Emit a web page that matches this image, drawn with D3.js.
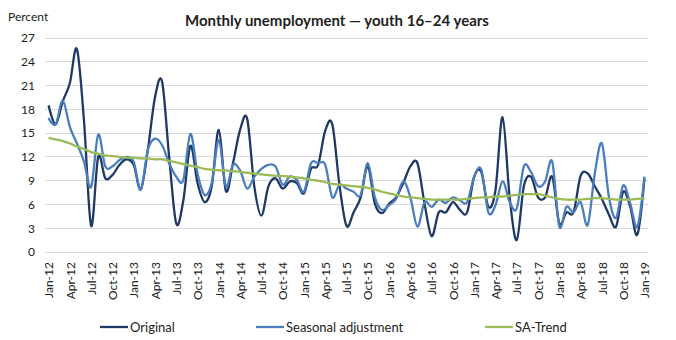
<!DOCTYPE html>
<html><head><meta charset="utf-8">
<script src="https://cdn.jsdelivr.net/npm/d3@7"></script>
<style>
html,body{margin:0;padding:0;background:#fff;}
svg text{font-family:Lato,"Liberation Sans",sans-serif;fill:#222;}
</style></head>
<body><svg id="c" width="676" height="340"></svg>
<script>
const monthNames = ["Jan","Feb","Mar","Apr","May","Jun","Jul","Aug","Sep","Oct","Nov","Dec"];
const years = [12,13,14,15,16,17,18,19];
const months = [];
years.forEach(yr => monthNames.forEach(m => { if (yr < 19 || m === "Jan") months.push(m + "-" + yr); }));

const original = [18.5,16.1,19.0,21.3,25.6,16.5,3.3,12.0,9.3,9.7,11.0,11.7,
 11.0,7.9,12.9,19.5,21.5,12.0,3.6,6.5,13.4,8.7,6.3,8.3,
 15.4,7.7,11.2,15.4,16.8,8.3,4.6,8.3,9.3,8.0,8.9,8.7,
 7.4,10.5,11.0,15.3,16.1,8.5,3.3,5.0,6.9,10.8,6.1,4.9,
 6.1,6.9,8.7,10.8,11.2,6.1,2.0,5.0,5.0,6.3,5.3,5.0,
 9.5,10.1,5.7,7.8,17.0,6.9,1.5,8.3,9.5,6.9,6.9,9.5,
 3.6,5.0,5.0,9.6,9.9,8.3,6.7,4.7,3.2,7.6,5.7,2.2,
 9.3];
const seasonal = [16.9,16.1,19.1,15.8,13.7,11.4,8.2,14.8,10.8,10.8,11.6,12.0,
 11.4,7.9,12.9,14.3,13.5,11.2,9.5,9.1,14.9,9.9,7.2,8.7,
 14.1,8.3,11.0,10.3,8.0,9.5,10.5,11.0,10.8,8.5,9.5,9.1,
 7.6,11.2,11.2,11.0,6.9,8.5,8.0,7.6,7.2,11.2,6.9,5.3,
 5.9,6.7,8.9,6.9,3.2,6.3,5.7,6.6,6.2,6.9,6.5,6.3,
 9.5,10.4,5.0,5.9,8.9,6.3,5.5,10.8,10.1,8.3,8.9,11.4,
 3.2,5.7,5.0,6.3,3.4,9.9,13.7,6.9,4.3,8.4,6.1,3.2,
 9.5];
const trend = [14.4,14.2,14.0,13.7,13.3,13.0,12.6,12.4,12.2,12.1,12.0,11.9,
 11.9,11.8,11.8,11.7,11.7,11.5,11.3,11.1,10.9,10.7,10.5,10.4,
 10.3,10.3,10.2,10.1,10.0,9.9,9.8,9.7,9.6,9.6,9.5,9.4,
 9.3,9.1,9.0,8.8,8.6,8.5,8.4,8.3,8.2,8.1,7.9,7.6,
 7.4,7.2,7.0,6.9,6.8,6.7,6.6,6.6,6.6,6.6,6.6,6.7,
 6.8,6.9,6.9,7.0,7.0,7.1,7.2,7.3,7.3,7.3,7.1,6.9,
 6.7,6.6,6.6,6.6,6.7,6.8,6.8,6.7,6.6,6.6,6.6,6.7,
 6.8];
const yTicks = [0,3,6,9,12,15,18,21,24,27];
const seriesNames = ["Original","Seasonal adjustment","SA-Trend"];
const seriesColors = ["#1f3864","#4a7ebf","#9bbb59"];

const svg = d3.select("#c");
const x = d3.scalePoint().domain(months).range([45,648]).padding(0.5);
const y = d3.scaleLinear().domain([0,27]).range([252,38]);

svg.append("g").selectAll("line").data(yTicks).join("line")
  .attr("x1",45).attr("x2",648)
  .attr("y1",d=>y(d)).attr("y2",d=>y(d))
  .attr("stroke","#d9d9d9").attr("stroke-width",1).attr("shape-rendering","crispEdges");

const yAxis = d3.axisLeft(y).tickValues(yTicks).tickSize(0).tickPadding(0);
const gy = svg.append("g").attr("transform","translate(35,0)").call(yAxis);
gy.select(".domain").remove();
gy.selectAll("text").attr("font-size",12).attr("fill","#222");

const xAxis = d3.axisBottom(x).tickValues(months.filter((m,i)=>i%3===0)).tickSize(0).tickPadding(0);
const gx = svg.append("g").attr("transform","translate(0,258)").call(xAxis);
gx.select(".domain").remove();
gx.selectAll("text")
  .attr("font-size",12).attr("fill","#222")
  .attr("text-anchor","end")
  .attr("transform","rotate(-90)")
  .attr("x",-4).attr("y",0).attr("dy","0.35em");

const line = d3.line().x((d,i)=>x(months[i])).y(d=>y(d)).curve(d3.curveCardinal.tension(0));
[original, seasonal, trend].forEach((s,k)=>{
  svg.append("path").datum(s).attr("d",line)
    .attr("fill","none").attr("stroke",seriesColors[k]).attr("stroke-width",2.3)
    .attr("stroke-linejoin","round");
});

svg.append("text").attr("x",337).attr("y",26).attr("text-anchor","middle")
  .attr("font-size",15).attr("font-weight","bold").text("Monthly unemployment \u2014 youth 16\u201324 years");
svg.append("text").attr("x",8).attr("y",21).attr("font-size",12).text("Percent");

const legX = [100, 256, 485];
const lg = svg.append("g");
seriesNames.forEach((n,k)=>{
  lg.append("line").attr("x1",legX[k]).attr("x2",legX[k]+28).attr("y1",327).attr("y2",327)
    .attr("stroke",seriesColors[k]).attr("stroke-width",2.3);
  lg.append("text").attr("x",legX[k]+30).attr("y",327).attr("dy","0.35em").attr("font-size",13).text(n);
});
</script></body></html>
